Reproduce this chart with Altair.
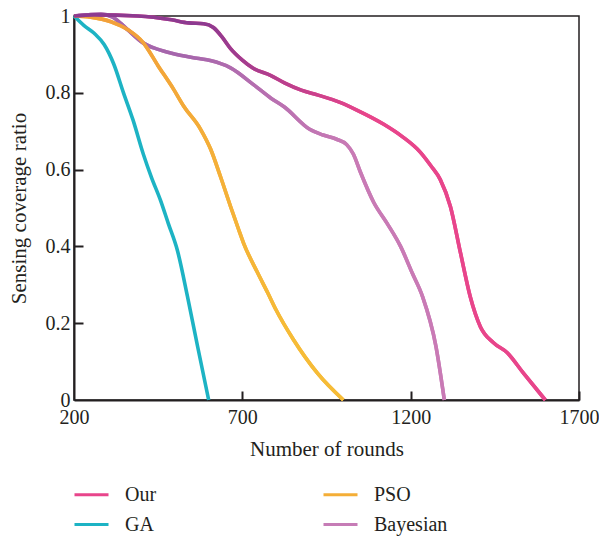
import altair as alt
import pandas as pd

# ---- data ----
series_names = ["Our", "PSO", "GA", "Bayesian"]
legend_colors = ["#E8458B", "#F4AE37", "#1DB3C4", "#C67CB6"]

our_x = [200, 260, 390, 490, 540, 585, 614, 640, 665, 700, 730, 785, 825, 875, 925, 990,
         1040, 1120, 1175, 1229, 1260, 1288, 1318, 1348, 1377, 1407, 1446, 1487, 1535, 1600]
our_y = [1.0, 1.003, 1.0, 0.99, 0.982, 0.98, 0.97, 0.945, 0.915, 0.885, 0.865, 0.845, 0.826,
         0.807, 0.794, 0.775, 0.755, 0.718, 0.686, 0.645, 0.61, 0.574, 0.504, 0.383, 0.269,
         0.191, 0.149, 0.123, 0.07, 0.0]

pso_x = [200, 250, 310, 360, 406, 450, 496, 526, 576, 606, 635, 665, 689, 703,
         745, 775, 800, 852, 923, 1000]
pso_y = [1.0, 0.997, 0.985, 0.964, 0.93, 0.87, 0.809, 0.765, 0.705, 0.653, 0.582, 0.504,
         0.444, 0.41, 0.332, 0.28, 0.235, 0.157, 0.07, 0.0]

ga_x = [200, 230, 260, 290, 318, 347, 375, 406, 430, 457, 480, 507, 537, 567, 600]
ga_y = [1.0, 0.975, 0.955, 0.925, 0.875, 0.80, 0.73, 0.64, 0.58, 0.52, 0.46, 0.39, 0.27,
        0.14, 0.0]

bay_x = [200, 240, 280, 315, 340, 360, 405, 450, 490, 565, 605, 665, 735, 785, 825, 900,
         940, 980, 1010, 1030, 1050, 1090, 1130, 1170, 1205, 1235, 1275, 1300]
bay_y = [1.0, 1.003, 1.005, 0.997, 0.98, 0.964, 0.93, 0.913, 0.903, 0.89, 0.884, 0.865, 0.82,
         0.786, 0.763, 0.705, 0.69, 0.679, 0.665, 0.64, 0.595, 0.515, 0.46, 0.40, 0.33, 0.27,
         0.14, 0.0]

x_ticks = [200, 700, 1200, 1700]
y_ticks = [0, 0.2, 0.4, 0.6, 0.8, 1]

rows = []
for name, xs, ys in [("Our", our_x, our_y), ("PSO", pso_x, pso_y),
                     ("GA", ga_x, ga_y), ("Bayesian", bay_x, bay_y)]:
    for i, (a, b) in enumerate(zip(xs, ys)):
        rows.append({"series": name, "rounds": a, "ratio": b, "order": i})
df = pd.DataFrame(rows)

FONT = "Liberation Serif"
INK = "#231f20"
SW = 3.6

xscale = alt.Scale(domain=[200, 1700], nice=False, zero=False)
yscale = alt.Scale(domain=[0, 1], nice=False)

base = alt.Chart(df)

main = base.mark_line(interpolate="monotone", strokeWidth=SW).encode(
    x=alt.X("rounds:Q", scale=xscale,
            axis=alt.Axis(values=x_ticks, format="d", title="Number of rounds", ticks=False,
                          labelPadding=7, titlePadding=11, grid=False, labelFlush=False,
                          domainColor=INK, domainWidth=2,
                          labelFont=FONT, titleFont=FONT, labelFontSize=20,
                          titleFontSize=21, labelColor=INK, titleColor=INK,
                          titleFontWeight="normal")),
    y=alt.Y("ratio:Q", scale=yscale,
            axis=alt.Axis(values=y_ticks, format=".1~f", title="Sensing coverage ratio",
                          ticks=False, labelPadding=4, titlePadding=16, grid=False,
                          labelFlush=False,
                          domainColor=INK, domainWidth=2,
                          labelFont=FONT, titleFont=FONT, labelFontSize=20,
                          titleFontSize=21, labelColor=INK, titleColor=INK,
                          titleFontWeight="normal")),
    color=alt.Color("series:N",
                    scale=alt.Scale(domain=series_names, range=legend_colors),
                    legend=alt.Legend(title=None, orient="none", legendX=-1, legendY=460,
                                      direction="horizontal", columns=2,
                                      columnPadding=160, rowPadding=1,
                                      symbolType="stroke", symbolSize=1156,
                                      symbolStrokeWidth=3, labelOffset=15, padding=0,
                                      labelFontSize=20, labelFont=FONT, labelColor=INK)),
    order="order:Q",
)


def grad(c0, c1, p0, p1):
    return alt.LinearGradient(
        gradient="linear", x1=0, x2=1, y1=0, y2=0,
        stops=[alt.GradientStop(offset=0, color=c0),
               alt.GradientStop(offset=p0, color=c0),
               alt.GradientStop(offset=p1, color=c1),
               alt.GradientStop(offset=1, color=c1)])


our_over = base.transform_filter(alt.datum.series == "Our").mark_line(
    interpolate="monotone", strokeWidth=SW,
    color=grad("#8D3A90", "#E8458B", 0.28, 0.62)).encode(
    x=alt.X("rounds:Q", scale=xscale,
            axis=alt.Axis(orient="top", offset=-384, values=[700, 1200, 1700], labels=False,
                          domain=False, title=None, tickSize=9, tickWidth=2,
                          tickColor=INK, grid=False)),
    y=alt.Y("ratio:Q", scale=yscale,
            axis=alt.Axis(orient="right", offset=-505, values=[0.2, 0.4, 0.6, 0.8],
                          labels=False, domain=False, title=None, tickSize=9, tickWidth=2,
                          tickColor=INK, grid=False)),
    order="order:Q",
)

pso_over = base.transform_filter(alt.datum.series == "PSO").mark_line(
    interpolate="monotone", strokeWidth=SW,
    color=grad("#F2A03A", "#F6BC37", 0.2, 0.8)).encode(
    x=alt.X("rounds:Q", scale=xscale, axis=None),
    y=alt.Y("ratio:Q", scale=yscale, axis=None),
    order="order:Q",
)

bay_over = base.transform_filter(alt.datum.series == "Bayesian").mark_line(
    interpolate="monotone", strokeWidth=SW,
    color=grad("#A566AC", "#C97AB5", 0.3, 0.75)).encode(
    x=alt.X("rounds:Q", scale=xscale, axis=None),
    y=alt.Y("ratio:Q", scale=yscale, axis=None),
    order="order:Q",
)

chart = alt.layer(main, bay_over, pso_over, our_over).resolve_axis(
    x="independent", y="independent"
).properties(
    width=505, height=384,
    background="white",
    autosize=alt.AutoSizeParams(type="none"),
    padding={"left": 74, "top": 16, "right": 20, "bottom": 137},
).configure_view(
    stroke=INK, strokeWidth=1.5
)

chart.save("out.html", embed_options={"renderer": "svg", "actions": False})
